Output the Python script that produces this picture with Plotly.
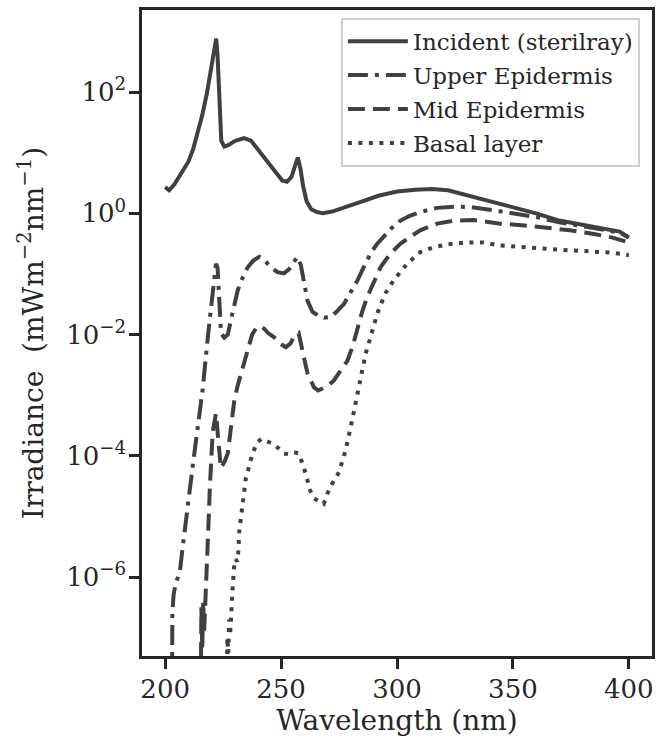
import plotly.graph_objects as go

# ---------------- data ----------------
inc_wl = [200, 201.7, 204, 206, 208, 210, 212, 214, 216, 218, 219.5, 221, 222, 222.6, 223.3,
          224.2, 225.5, 227, 230, 234, 237, 241, 245, 248, 250.5, 252.5, 254.5, 256, 257.2,
          258.3, 259.5, 261, 263, 265.5, 268, 272, 278, 285, 292, 300, 308, 315, 322, 330,
          340, 350, 360, 370, 380, 390, 396, 400]
inc_val = [2.7, 2.4, 3.0, 4.0, 5.1, 7.1, 11.2, 20.9, 41.7, 95.5, 200, 447, 759, 398, 63.1,
           15.8, 12.6, 13.2, 15.5, 17.4, 15.8, 10.0, 6.3, 4.37, 3.47, 3.31, 3.98, 6.03, 8.32,
           5.62, 2.82, 1.58, 1.17, 1.05, 1.0, 1.07, 1.26, 1.58, 1.95, 2.29, 2.45, 2.51, 2.40, 2.0,
           1.55, 1.26, 1.0, 0.76, 0.65, 0.55, 0.50, 0.40]

up_wl = [202.8, 203.1, 203.6, 204.5, 205.5, 206.5, 207.7, 209.5, 211, 212.6, 214.5, 216.2,
         218.4, 220.5, 221.9, 222.6, 223.2, 224.1, 225.5, 227, 229, 231.3, 233.5, 235.6, 238,
         240.6, 243, 245.6, 248.5, 251.2, 253.5, 255.5, 257, 258.5, 260, 261.4, 263.5, 265.7,
         268.5, 271.4, 274, 277.1, 280, 282.9, 285.5, 288.6, 291.5, 294.2, 297.5, 301.5, 305.5,
         310, 317.3, 325, 332, 340, 350, 360, 370, 380, 390, 396, 400]
up_val = [1e-9, 2.5e-7, 5.0e-7, 7.9e-7, 1.0e-6, 1.4e-6, 3.5e-6, 1.26e-5, 4.5e-5, 1.12e-4,
          4.0e-4, 1.29e-3, 9.1e-3, 6.0e-2, 0.148, 0.126, 0.040, 1.05e-2, 8.9e-3, 1.0e-2,
          2.24e-2, 5.4e-2, 8.9e-2, 0.129, 0.166, 0.191, 0.166, 0.129, 0.107, 0.102, 0.120,
          0.158, 0.191, 0.141, 7.1e-2, 3.6e-2, 2.4e-2, 2.1e-2, 1.9e-2, 1.95e-2, 2.4e-2, 3.2e-2,
          5.0e-2, 7.8e-2, 0.126, 0.219, 0.316, 0.407, 0.562, 0.759, 0.912, 1.05, 1.23, 1.29,
          1.26, 1.15, 1.0, 0.87, 0.71, 0.62, 0.53, 0.48, 0.40]

mid_wl = [215.2, 215.6, 216.0, 216.4, 216.8, 217.4, 218.0, 218.6, 219.3, 220.5, 221.9, 222.7,
          224, 225.5, 227, 228.5, 229.8, 231.2, 232.7, 235.6, 237.5, 239.1, 241, 242.6, 244.5,
          246.9, 249.5, 252, 254, 255.5, 257.6, 259.8, 261.4, 264.2, 266, 267.8, 270, 272.7,
          275.5, 278.6, 280.8, 282.9, 285, 287.2, 290, 292.9, 297, 301.5, 306, 310, 317.3, 325,
          333, 344.5, 355, 365, 374.6, 385, 393, 400]
mid_val = [1e-9, 3.2e-7, 6.3e-8, 4.0e-7, 1.26e-7, 6.3e-7, 1.6e-6, 6.3e-6, 3.2e-5, 2.5e-4,
           5.0e-4, 2.0e-4, 6.3e-5, 7.9e-5, 1.1e-4, 3.2e-4, 8.1e-4, 1.41e-3, 2.29e-3, 6.2e-3,
           1.0e-2, 1.26e-2, 1.38e-2, 1.26e-2, 1.05e-2, 9.1e-3, 7.2e-3, 6.2e-3, 7.1e-3, 9.1e-3,
           1.05e-2, 4.3e-3, 2.29e-3, 1.35e-3, 1.2e-3, 1.29e-3, 1.41e-3, 1.74e-3, 2.5e-3, 3.7e-3,
           6.3e-3, 1.32e-2, 2.4e-2, 4.2e-2, 7.6e-2, 0.129, 0.214, 0.316, 0.417, 0.525, 0.676,
           0.759, 0.776, 0.676, 0.631, 0.575, 0.525, 0.457, 0.398, 0.331]

bas_wl = [226.3, 226.8, 227.2, 227.6, 228.0, 228.4, 228.8, 229.2, 229.7, 230.5, 231.0, 231.5,
          232.0, 232.7, 233.4, 234.0, 234.8, 236.3, 237.7, 239.8, 241.5, 243.4, 246.9, 249,
          251.2, 253, 255.5, 257.6, 259.8, 261.4, 262.5, 264.2, 266.2, 268.4, 270, 272.1, 275,
          277.8, 280, 282.2, 284.3, 286.5, 288.6, 291.5, 295, 298.5, 304.4, 310, 315.7, 322,
          330, 337, 344.5, 355, 365, 374.6, 385, 393, 400]
bas_val = [1e-9, 1.0e-7, 5.6e-8, 2.0e-7, 1.1e-7, 2.5e-7, 5.0e-7, 7.9e-7, 1.45e-6, 2.0e-6,
           1.8e-6, 2.5e-6, 5.9e-6, 9.5e-6, 1.62e-5, 2.5e-5, 4.3e-5, 6.9e-5, 1.1e-4, 1.7e-4,
           1.9e-4, 1.78e-4, 1.55e-4, 1.32e-4, 1.1e-4, 1.07e-4, 1.15e-4, 1.1e-4, 6.5e-5, 3.9e-5,
           2.7e-5, 2.0e-5, 1.82e-5, 1.62e-5, 2.4e-5, 3.5e-5, 5.4e-5, 1.23e-4, 2.95e-4, 8.1e-4,
           2.0e-3, 4.9e-3, 9.1e-3, 2.24e-2, 4.8e-2, 7.8e-2, 0.148, 0.229, 0.275, 0.309, 0.331,
           0.331, 0.295, 0.275, 0.263, 0.245, 0.234, 0.224, 0.204]

x_ticks = [200, 250, 300, 350, 400]
y_tick_vals = [1e-6, 1e-4, 1e-2, 1e0, 1e2]
y_tick_text = ["10<sup>\u22126</sup>", "10<sup>\u22124</sup>", "10<sup>\u22122</sup>",
               "10<sup>0</sup>", "10<sup>2</sup>"]

names = ["Incident (sterilray)", "Upper Epidermis", "Mid Epidermis", "Basal layer"]

# ---------------- figure ----------------
LC = "#404040"
TXT = "#262626"
FONT = "DejaVu Serif"

series = [
    (inc_wl, inc_val, "solid"),
    (up_wl, up_val, "20px,7px,4px,7px"),
    (mid_wl, mid_val, "17px,8px"),
    (bas_wl, bas_val, "4px,6.5px"),
]

fig = go.Figure()
for i, (xw, yv, dash) in enumerate(series):
    fig.add_trace(go.Scatter(
        x=xw, y=yv, mode="lines", name=names[i], legendgroup=f"g{i}",
        line=dict(color=LC, width=4, dash=dash),
    ))

fig.update_layout(
    width=666, height=742,
    margin=dict(l=142, r=14, t=10, b=86),
    paper_bgcolor="white", plot_bgcolor="white",
    font=dict(family=FONT, size=26, color=TXT),
    showlegend=True,
    legend=dict(
        x=0.39, y=0.988, xanchor="left", yanchor="top",
        bgcolor="rgba(255,255,255,0.85)", bordercolor="#d0d0d0", borderwidth=2,
        font=dict(family=FONT, size=23, color=TXT),
        tracegroupgap=1, traceorder="grouped", itemwidth=60,
    ),
)

fig.update_xaxes(
    range=[190, 410], tickvals=x_ticks, ticks="outside", ticklen=10, tickwidth=2.5,
    tickcolor=TXT, showline=True, linewidth=2.5, linecolor=TXT, mirror=True,
    showgrid=False, zeroline=False, automargin=False, ticklabelstandoff=-2,
    title=dict(text="Wavelength (nm)", font=dict(size=28), standoff=2),
    tickfont=dict(size=26),
)
fig.update_yaxes(
    type="log", range=[-7.30, 3.353], tickvals=y_tick_vals, ticktext=y_tick_text,
    ticks="outside", ticklen=10, tickwidth=2.5, tickcolor=TXT,
    showline=True, linewidth=2.5, linecolor=TXT, mirror=True,
    showgrid=False, zeroline=False, automargin=False, ticklabelstandoff=-2,
    title=dict(text="Irradiance\u00a0 (mWm<sup>\u22122</sup>nm<sup>\u22121</sup>)",
               font=dict(size=28), standoff=15),
    tickfont=dict(size=26),
)

fig.write_html("out.html", config={"displayModeBar": False},
               post_script="document.body.style.margin='0px';")
